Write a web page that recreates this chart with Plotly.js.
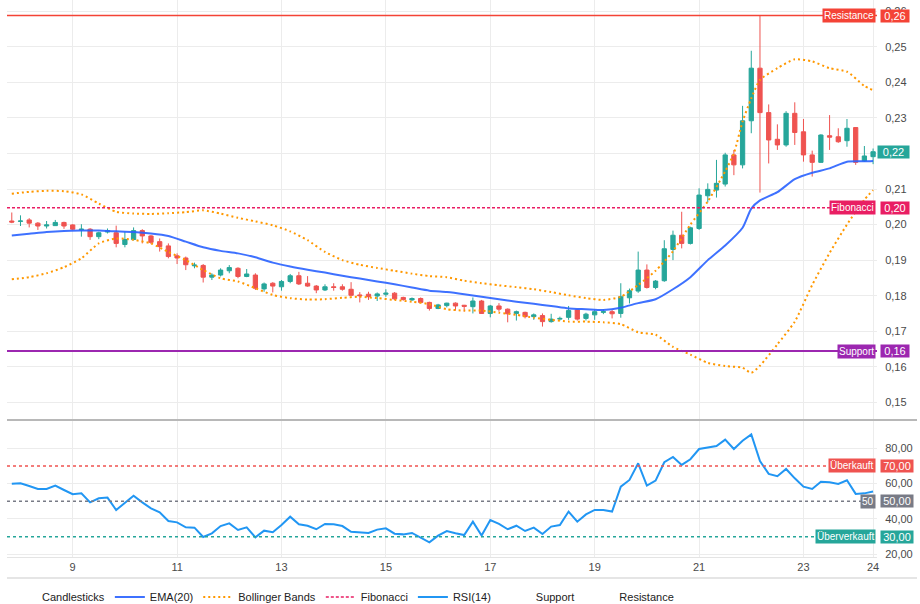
<!DOCTYPE html>
<html><head><meta charset="utf-8">
<script src="https://cdn.plot.ly/plotly-3.0.1.min.js"></script>
<style>html,body{margin:0;padding:0;background:#fff}#chart{width:920px;height:604px}</style>
</head><body><div id="chart"></div>
<script>
// ---- tick labels (day of month) and the candle index they sit on ----
const dayLabels  = ['9','11','13','15','17','19','21','23','24'];
const dayTickIdx = [7, 19, 31, 43, 55, 67, 79, 91, 99];
// price ticks (0,22 is hidden under the last-price tag in the reference)
const priceTicks = [0.15,0.16,0.17,0.18,0.19,0.20,0.21,0.22,0.23,0.24,0.25,0.26];
const rsiTicks = [20, 40, 60, 80];

// ---- OHLC (4h candles) ----
const open = [.2010,.2009,.2013,.2004,.1996,.1997,.2006,.1999,.1985,.1987,
  .1966,.1979,.1977,.1944,.1958,.1983,.1968,.1952,.1940,.1912,
  .1906,.1884,.1885,.1852,.1858,.1870,.1877,.1854,.1858,.1819,
  .1835,.1825,.1840,.1856,.1835,.1827,.1816,.1825,.1825,.1818,
  .1802,.1804,.1799,.1804,.1807,.1795,.1788,.1792,.1781,.1764,
  .1772,.1779,.1773,.1769,.1785,.1750,.1771,.1762,.1750,.1753,
  .1741,.1744,.1727,.1734,.1739,.1760,.1736,.1746,.1753,.1755,
  .1750,.1794,.1813,.1872,.1823,.1842,.1930,.1970,.1947,.1989,
  .2081,.2097,.2114,.2196,.2168,.2292,.2440,.2315,.2240,.2224,
  .2313,.2261,.2196,.2175,.2250,.2247,.2236,.2273,.2179,.2191];
const high = [.2034,.2026,.2018,.2007,.2010,.2013,.2008,.2001,.2001,.1990,
  .1980,.1989,.1997,.1980,.1992,.1987,.1971,.1961,.1947,.1919,
  .1910,.1893,.1889,.1863,.1877,.1886,.1880,.1875,.1863,.1837,
  .1838,.1844,.1861,.1867,.1855,.1830,.1832,.1835,.1832,.1838,
  .1810,.1811,.1809,.1818,.1810,.1797,.1795,.1795,.1783,.1777,
  .1780,.1781,.1774,.1795,.1788,.1774,.1779,.1764,.1758,.1755,
  .1750,.1750,.1749,.1741,.1771,.1762,.1752,.1760,.1762,.1760,
  .1835,.1820,.1924,.1888,.1844,.1956,.1983,.2036,.1994,.2102,
  .2116,.2182,.2202,.2210,.2334,.2489,.2588,.2338,.2282,.2319,
  .2344,.2297,.2208,.2254,.2308,.2271,.2297,.2273,.2221,.2214];
const low = [.2004,.1996,.1992,.1985,.1989,.1996,.1988,.1984,.1966,.1957,
  .1959,.1975,.1936,.1936,.1955,.1947,.1945,.1924,.1905,.1889,
  .1872,.1877,.1837,.1844,.1854,.1863,.1849,.1852,.1816,.1811,
  .1809,.1814,.1835,.1830,.1825,.1807,.1813,.1814,.1814,.1799,
  .1781,.1788,.1785,.1797,.1788,.1786,.1785,.1779,.1758,.1762,
  .1767,.1758,.1755,.1750,.1749,.1739,.1755,.1725,.1730,.1736,
  .1732,.1713,.1724,.1730,.1732,.1730,.1730,.1732,.1748,.1736,
  .1738,.1778,.1808,.1820,.1818,.1839,.1900,.1933,.1944,.1985,
  .2062,.2076,.2107,.2139,.2158,.2257,.2090,.2172,.2210,.2219,
  .2224,.2177,.2135,.2174,.2210,.2230,.2219,.2168,.2177,.2170];
const close = [.2007,.2010,.2004,.1996,.1999,.2006,.1996,.1987,.1987,.1966,
  .1977,.1983,.1947,.1958,.1983,.1968,.1950,.1938,.1910,.1906,
  .1887,.1886,.1852,.1858,.1872,.1879,.1854,.1861,.1821,.1833,
  .1827,.1840,.1856,.1833,.1827,.1816,.1825,.1823,.1818,.1801,
  .1800,.1797,.1805,.1807,.1791,.1789,.1792,.1781,.1764,.1774,
  .1779,.1771,.1770,.1785,.1750,.1771,.1762,.1749,.1755,.1741,
  .1746,.1727,.1734,.1736,.1758,.1734,.1748,.1755,.1755,.1749,
  .1797,.1814,.1872,.1823,.1841,.1932,.1970,.1947,.1991,.2083,
  .2099,.2116,.2196,.2168,.2292,.2440,.2315,.2238,.2224,.2313,
  .2259,.2196,.2175,.2252,.2246,.2233,.2271,.2175,.2193,.2205];

// ---- EMA(20) at these candles ----
const emaIdx = [0,2,4,6,8,10,12,14,16,18,20,22,24,26,28,30,32,34,36,38,40,42,44,46,48,50,52,54,56,58,60,62,64,66,68,70,72,74,76,78,80,82,84,85,86,88,90,92,94,96,98,99];
const emaVal = [.1969,.1974,.1979,.1982,.1983,.1983,.1981,.1979,.1975,.1968,.1952,.1936,.1926,.1919,.1908,.1893,.1882,.1873,.1865,.1856,.1848,.1840,.1832,.1823,.1814,.1810,.1804,.1797,.1790,.1783,.1777,.1771,.1764,.1762,.1760,.1766,.1779,.1790,.1818,.1852,.1900,.1941,.1991,.2045,.2068,.2091,.2128,.2146,.2158,.2177,.2178,.2179];

// ---- Bollinger Bands ----
const bbUpperIdx = [0,2,4,6,8,10,12,14,16,18,20,22,24,26,28,30,32,34,36,38,40,42,44,46,48,50,52,54,56,58,60,62,64,66,68,70,72,74,76,78,80,82,83,84,85,86,88,90,92,94,96,98,99];
const bbUpper = [.2087,.2092,.2095,.2094,.2085,.2059,.2036,.2031,.2030,.2032,.2035,.2040,.2031,.2019,.2009,.1998,.1981,.1956,.1923,.1900,.1887,.1878,.1870,.1862,.1855,.1852,.1842,.1835,.1829,.1824,.1818,.1810,.1801,.1793,.1788,.1797,.1830,.1870,.1925,.2000,.2065,.2150,.2200,.2290,.2355,.2407,.2440,.2465,.2459,.2440,.2430,.2390,.2378];
const bbLowerIdx = [0,2,4,6,8,10,12,14,16,18,20,22,24,26,28,30,32,34,36,38,40,42,44,46,48,50,52,54,56,58,60,62,64,66,68,70,72,74,76,78,80,82,84,85,86,88,90,92,94,96,98,99];
const bbLower = [.1846,.1852,.1863,.1880,.1905,.1947,.1961,.1957,.1947,.1923,.1900,.1872,.1849,.1840,.1821,.1802,.1793,.1789,.1790,.1794,.1797,.1793,.1788,.1783,.1776,.1762,.1758,.1758,.1752,.1746,.1738,.1732,.1727,.1727,.1725,.1720,.1697,.1690,.1656,.1634,.1611,.1602,.1597,.1583,.1603,.1663,.1727,.1830,.1920,.2000,.2070,.2097];

// ---- RSI(14) ----
const rsi = [60.0,60.2,58.7,57.0,57.0,58.9,56.4,54.0,54.5,49.4,
  51.7,52.1,45.1,48.9,53.2,49.4,46.0,43.8,38.9,38.1,
  35.3,35.1,29.8,31.9,36.0,37.5,33.8,35.3,29.6,33.4,
  32.5,36.6,41.3,37.0,36.2,34.2,37.2,37.0,36.0,32.8,
  32.6,32.1,34.0,34.7,31.7,31.3,32.1,29.4,26.8,30.6,
  33.2,31.9,30.9,38.5,30.6,39.4,37.2,34.2,36.2,33.2,
  35.1,31.5,35.7,36.6,44.2,38.5,42.6,45.1,45.1,44.2,
  58.3,62.1,71.5,58.9,61.7,72.1,75.1,70.6,73.8,79.6,
  80.4,81.3,84.9,79.6,84.3,87.9,72.8,65.5,64.2,68.3,
  63.0,58.3,57.0,61.1,60.8,59.8,61.9,54.2,54.5,55.5];

// ---- levels ----
const resistanceLevel = 0.2588;
const supportLevel = 0.1644;
const fibLevel = 0.2047;
const rsiLevels = [70, 50, 30];
const rsiLevelNames = ['Überkauft', '50', 'Überverkauft'];

// ---------------------------------------------------------------
const FONT = 'Liberation Sans, Arial, sans-serif';
const RED = '#ef5350', GREEN = '#26a69a';
const C_RES = '#f44336', C_SUP = '#9c27b0', C_FIB = '#e91e63', C_GRAY = '#787b86';
const idx = open.map((_, i) => i);
const fmt = v => v.toFixed(2).replace('.', ',');

const W = 920, H = 604, ML = 7, MR = 43, MT = 0, MB = 47;
const plotH = H - MT - MB;            // 557
const split = (plotH - 420) / plotH;  // pane boundary
const lastClose = close[close.length - 1];
const lastTag = fmt(lastClose);

const traces = [
  {type:'scatter', x:[null], y:[null], mode:'lines', name:'Candlesticks', line:{width:0, color:'rgba(0,0,0,0)'}},
  {type:'candlestick', x:idx, open:open, high:high, low:low, close:close, xaxis:'x', yaxis:'y',
   increasing:{line:{color:GREEN, width:1}, fillcolor:GREEN},
   decreasing:{line:{color:RED, width:1}, fillcolor:RED},
   whiskerwidth:0, showlegend:false, hoverinfo:'skip'},
  {type:'scatter', mode:'lines', x:emaIdx, y:emaVal, name:'EMA(20)', xaxis:'x', yaxis:'y',
   line:{color:'#2962ff', width:2, shape:'spline', smoothing:0.6}, opacity:0.9},
  {type:'scatter', mode:'lines', x:bbUpperIdx, y:bbUpper, name:'Bollinger Bands', legendgroup:'bb', xaxis:'x', yaxis:'y',
   line:{color:'#ff9800', width:2, dash:'2px,3px', shape:'spline', smoothing:0.6}},
  {type:'scatter', mode:'lines', x:bbLowerIdx, y:bbLower, name:'Bollinger Bands', legendgroup:'bb', showlegend:false, xaxis:'x', yaxis:'y',
   line:{color:'#ff9800', width:2, dash:'2px,3px', shape:'spline', smoothing:0.6}},
  {type:'scatter', x:[null], y:[null], mode:'lines', name:'Fibonacci', line:{color:C_FIB, width:1.5, dash:'3px,2px'}},
  {type:'scatter', mode:'lines', x:idx, y:rsi, name:'RSI(14)', xaxis:'x2', yaxis:'y2',
   line:{color:'#2196f3', width:2}},
  {type:'scatter', x:[null], y:[null], mode:'lines', name:'Support', line:{width:0, color:'rgba(0,0,0,0)'}},
  {type:'scatter', x:[null], y:[null], mode:'lines', name:'Resistance', line:{width:0, color:'rgba(0,0,0,0)'}}
];

const shapes = [
  {type:'line', xref:'paper', x0:0, x1:1, yref:'y', y0:resistanceLevel, y1:resistanceLevel, line:{color:C_RES, width:1.5}},
  {type:'line', xref:'paper', x0:0, x1:1, yref:'y', y0:supportLevel, y1:supportLevel, line:{color:C_SUP, width:2}},
  {type:'line', xref:'paper', x0:0, x1:1, yref:'y', y0:fibLevel, y1:fibLevel, line:{color:C_FIB, width:1.5, dash:'3px,2px'}},
  {type:'line', xref:'paper', x0:0, x1:(W - 3 - ML) / (W - ML - MR), yref:'paper', y0:split, y1:split, line:{color:'#b8b8b8', width:2}},
  {type:'line', xref:'paper', x0:0, x1:(W - 3 - ML) / (W - ML - MR), yref:'paper', y0:-(578 - plotH) / plotH, y1:-(578 - plotH) / plotH, line:{color:'#dcdcdc', width:1.5}}
];
const rsiColors = [RED, C_GRAY, GREEN];
rsiLevels.forEach((lv, k) => {
  shapes.push({type:'line', xref:'paper', x0:0, x1:1, yref:'y2', y0:lv, y1:lv, line:{color:rsiColors[k], width:1.5, dash:'3px,3px'}});
});

const annotations = [];
function addLevel(label, valueText, color, yref, yv, valueShift, w) {
  if (label) annotations.push({xref:'paper', x:1, xanchor:'right', xshift:-1, yref:yref, y:yv, yanchor:'middle',
    text:label, showarrow:false, bgcolor:color, borderpad:1, font:{family:FONT, size:10, color:'#fff'}});
  annotations.push({xref:'paper', x:1, xanchor:'left', xshift:valueShift, yref:yref, y:yv, yanchor:'middle',
    text:valueText, showarrow:false, bgcolor:color, borderpad:0, width:w, align:'center', font:{family:FONT, size:11, color:'#fff'}});
}
addLevel('Resistance', fmt(resistanceLevel), C_RES, 'y', resistanceLevel, 3, 28);
addLevel('Fibonacci', fmt(fibLevel), C_FIB, 'y', fibLevel, 3, 28);
addLevel('Support', fmt(supportLevel), C_SUP, 'y', supportLevel, 3, 28);
addLevel(null, lastTag, lastClose >= open[open.length - 1] ? GREEN : RED, 'y', lastClose, 0, 31);
rsiLevels.forEach((lv, k) => addLevel(rsiLevelNames[k], fmt(lv), rsiColors[k], 'y2', lv, 3, 32));

const axisFont = {family:FONT, size:11, color:'#4a4a4a'};
const layout = {
  width:W, height:H, margin:{l:ML, r:MR, t:MT, b:MB, autoexpand:false},
  paper_bgcolor:'#fff', plot_bgcolor:'#fff',
  separators:',.', showlegend:true, hovermode:false,
  xaxis:{domain:[0,1], anchor:'y', range:[-0.55, 99.45], tickvals:dayTickIdx, ticktext:dayLabels, showticklabels:false,
    showgrid:true, gridcolor:'#ececec', zeroline:false, showline:false, rangeslider:{visible:false}, automargin:false},
  xaxis2:{domain:[0,1], anchor:'y2', matches:'x', range:[-0.55, 99.45], tickvals:dayTickIdx, ticktext:dayLabels,
    showgrid:true, gridcolor:'#ececec', zeroline:false, showline:true, linecolor:'#e4e4e4', linewidth:1,
    tickfont:axisFont, ticks:'', rangeslider:{visible:false}, automargin:false},
  yaxis:{domain:[split, 1], anchor:'x', side:'right', range:[0.14502, 0.26318],
    tickvals:priceTicks, ticktext:priceTicks.map(v => fmt(v) === lastTag ? '' : fmt(v)),
    showgrid:true, gridcolor:'#ececec', zeroline:false, showline:false, ticks:'outside', ticklen:5, tickcolor:'rgba(0,0,0,0)', tickfont:axisFont, automargin:false},
  yaxis2:{domain:[0, split], anchor:'x2', side:'right', range:[18.5, 96], tickvals:rsiTicks, tickformat:'.2f',
    showgrid:true, gridcolor:'#ececec', zeroline:false, showline:false, ticks:'outside', ticklen:5, tickcolor:'rgba(0,0,0,0)', tickfont:axisFont, automargin:false},
  legend:{orientation:'h', x:-5 / (W - ML - MR), xanchor:'left', y:-(597 - plotH) / plotH, yanchor:'middle',
    font:{family:FONT, size:11, color:'#222'}, bgcolor:'rgba(0,0,0,0)', itemwidth:30, traceorder:'normal'},
  shapes:shapes, annotations:annotations
};
Plotly.newPlot('chart', traces, layout, {displayModeBar:false, staticPlot:true});
</script>
</body></html>
